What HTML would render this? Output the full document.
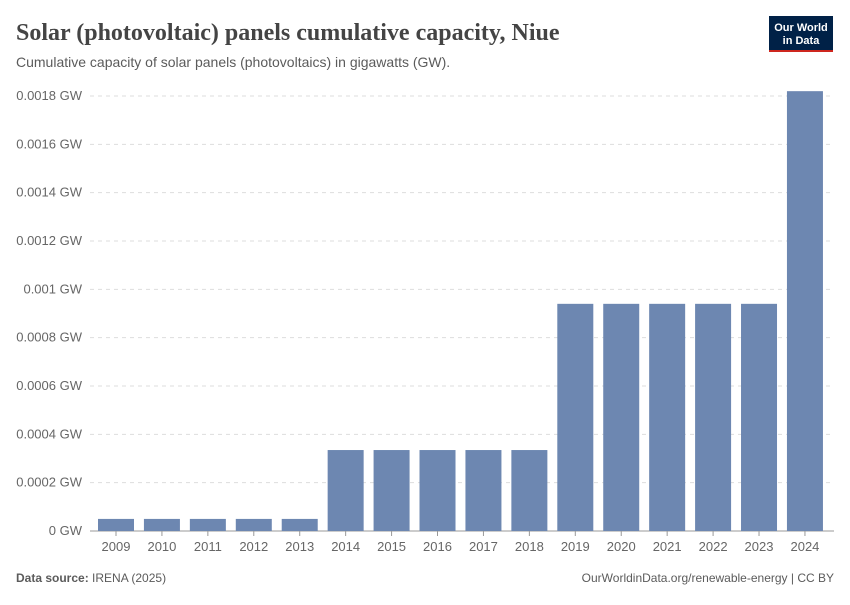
<!DOCTYPE html>
<html><head><meta charset="utf-8"><style>
body{margin:0;width:850px;height:600px;background:#fff;font-family:"Liberation Sans",sans-serif;overflow:hidden}
</style></head><body>
<svg width="850" height="600" xmlns="http://www.w3.org/2000/svg">
<text x="16" y="40" font-family="Liberation Serif,serif" font-size="24" font-weight="bold" fill="#444">Solar (photovoltaic) panels cumulative capacity, Niue</text>
<text x="16" y="67" font-size="14" fill="#5b5b5b">Cumulative capacity of solar panels (photovoltaics) in gigawatts (GW).</text>
<g>
<rect x="769" y="16" width="64" height="36" fill="#002147"/>
<rect x="769" y="50" width="64" height="2" fill="#ce261e"/>
<text x="801" y="31" font-size="11" font-weight="bold" fill="#fff" text-anchor="middle">Our World</text>
<text x="801" y="44" font-size="11" font-weight="bold" fill="#fff" text-anchor="middle">in Data</text>
</g>
<g id="grid"></g><g id="bars"></g><g id="xl"></g>
<text x="16" y="582" font-size="12" fill="#5b5b5b"><tspan font-weight="bold">Data source:</tspan> IRENA (2025)</text>
<text x="834" y="582" font-size="12" fill="#5b5b5b" text-anchor="end">OurWorldinData.org/renewable-energy | CC BY</text>
</svg>
<script>
const years=["2009","2010","2011","2012","2013","2014","2015","2016","2017","2018","2019","2020","2021","2022","2023","2024"];
const values=[0.00005,0.00005,0.00005,0.00005,0.00005,0.000335,0.000335,0.000335,0.000335,0.000335,0.00094,0.00094,0.00094,0.00094,0.00094,0.00182];
const ticks=[0,0.0002,0.0004,0.0006,0.0008,0.001,0.0012,0.0014,0.0016,0.0018];
const tickLabels=["0 GW","0.0002 GW","0.0004 GW","0.0006 GW","0.0008 GW","0.001 GW","0.0012 GW","0.0014 GW","0.0016 GW","0.0018 GW"];
const NS="http://www.w3.org/2000/svg";
const y=v=>531-v/0.0018*435;
const x=i=>116+i*45.93;
const g=document.getElementById('grid'),b=document.getElementById('bars'),xl=document.getElementById('xl');
function mk(p,t,a){const e=document.createElementNS(NS,t);for(const k in a)e.setAttribute(k,a[k]);p.appendChild(e);return e;}
ticks.forEach((t,i)=>{
 const l=mk(g,'line',{x1:90,x2:834,y1:y(t),y2:y(t),stroke:i?'#ddd':'#999','stroke-dasharray':i?'4,4':'none'});
 
 
 const tx=mk(g,'text',{x:82,y:y(t)+4,'font-size':13,fill:'#666','text-anchor':'end'});tx.textContent=tickLabels[i];
 
 
});
values.forEach((v,i)=>{
 const r=mk(b,'rect',{x:x(i)-18,y:y(v),width:36,height:531-y(v),fill:'#6d87b1'});
 
 
 const tk=mk(xl,'line',{x1:x(i),x2:x(i),y1:531,y2:536,stroke:'#999'});
 
 
 const t=mk(xl,'text',{x:x(i),y:551,'font-size':13,fill:'#666','text-anchor':'middle'});t.textContent=years[i];
 
 
});
</script>
</body></html>
